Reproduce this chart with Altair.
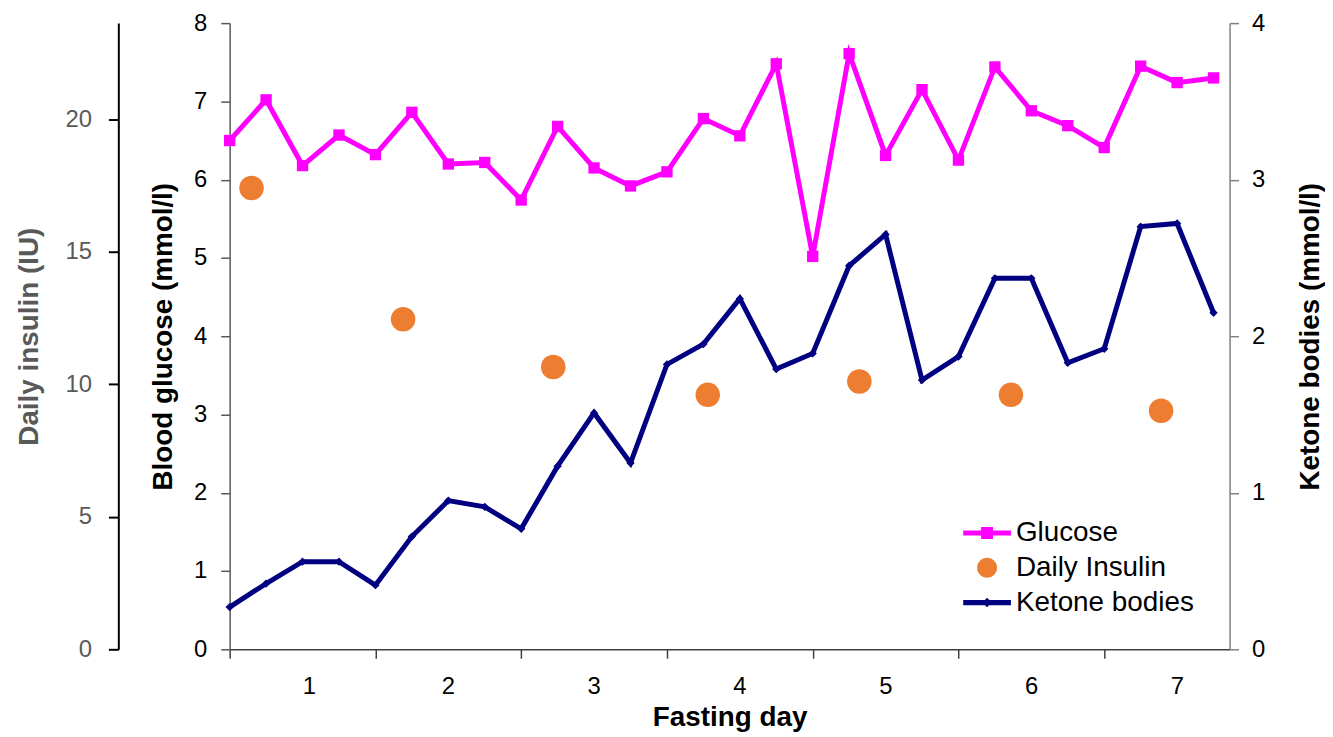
import altair as alt
import pandas as pd

# ---- data ----
measure_day = [0.5, 0.75, 1.0, 1.25, 1.5, 1.75, 2.0, 2.25, 2.5, 2.75, 3.0, 3.25, 3.5, 3.75,
               4.0, 4.25, 4.5, 4.75, 5.0, 5.25, 5.5, 5.75, 6.0, 6.25, 6.5, 6.75, 7.0, 7.25]
glucose = [6.50, 7.02, 6.18, 6.57, 6.32, 6.86, 6.20, 6.22, 5.74, 6.68, 6.15, 5.92, 6.10, 6.78,
           6.56, 7.48, 5.02, 7.61, 6.31, 7.15, 6.25, 7.44, 6.88, 6.69, 6.41, 7.45, 7.24, 7.30]
ketone = [0.27, 0.42, 0.56, 0.56, 0.41, 0.72, 0.95, 0.91, 0.77, 1.17, 1.51, 1.19, 1.82, 1.95,
          2.24, 1.79, 1.89, 2.45, 2.65, 1.72, 1.87, 2.37, 2.37, 1.83, 1.92, 2.70, 2.72, 2.15]
insulin_day = [0.65, 1.69, 2.72, 3.78, 4.82, 5.86, 6.89]
insulin = [17.4, 12.45, 10.65, 9.6, 10.1, 9.6, 9.0]
series_names = ["Glucose", "Daily Insulin", "Ketone bodies"]
series_colors = ["#FF00FF", "#ED7D31", "#000080"]
day_ticks = [0.5, 1.5, 2.5, 3.5, 4.5, 5.5, 6.5]
insulin_ticks = [0, 5, 10, 15, 20]
glucose_ticks = [0, 1, 2, 3, 4, 5, 6, 7, 8]
ketone_ticks = [0, 1, 2, 3, 4]

meas = pd.DataFrame({"day": measure_day, "glucose": glucose, "ketone": ketone})
ins = pd.DataFrame({"day": insulin_day, "insulin": insulin})
leg = pd.DataFrame({"series": series_names})

FONT = "Liberation Sans"
W, H = 1006, 630
xscale = alt.Scale(domain=[0.5, 7.36], nice=False, zero=False)

x_axis = alt.Axis(values=day_ticks, labelExpr="format(datum.value + 0.5, 'd')",
                  labelOffset=73, title="Fasting day", grid=False,
                  domainColor="#404040", tickColor="#404040", tickSize=9,
                  domainWidth=1.5, tickWidth=1.5,
                  labelPadding=16, titlePadding=6, labelColor="black", titleColor="black",
                  labelFontSize=24, titleFontSize=28, labelFont=FONT, titleFont=FONT,
                  titleFontWeight="bold")
X = alt.X("day:Q", scale=xscale, axis=x_axis)

# Insulin (far left axis)
ins_layer = alt.Chart(ins).mark_circle(size=610, opacity=1, color="#ED7D31").encode(
    x=X,
    y=alt.Y("insulin:Q",
            scale=alt.Scale(domain=[0, 23.62], nice=False, zero=True),
            axis=alt.Axis(orient="left", offset=112, values=insulin_ticks,
                          title="Daily insulin (IU)", labelColor="#595959",
                          titleColor="#595959", domainColor="black", tickColor="black",
                          domainWidth=2, tickWidth=2, tickSize=10, labelPadding=17,
                          titlePadding=22, grid=False)),
)

# Glucose (left axis)
g_base = alt.Chart(meas).encode(
    x=X,
    y=alt.Y("glucose:Q",
            scale=alt.Scale(domain=[0, 8], nice=False),
            axis=alt.Axis(orient="left", values=glucose_ticks,
                          title="Blood glucose (mmol/l)", labelColor="black",
                          titleColor="black", domainColor="#595959", tickColor="#595959",
                          domainWidth=1.5, tickWidth=1.5, tickSize=9, labelPadding=14,
                          titlePadding=16, grid=False)),
)
g_group = alt.layer(
    g_base.mark_line(color="#FF00FF", strokeWidth=5),
    g_base.mark_point(shape="square", filled=True, size=130, color="#FF00FF", opacity=1),
)

# Ketone (right axis)
k_base = alt.Chart(meas).encode(
    x=X,
    y=alt.Y("ketone:Q",
            scale=alt.Scale(domain=[0, 4], nice=False),
            axis=alt.Axis(orient="right", values=ketone_ticks,
                          title="Ketone bodies (mmol/l)", titleAngle=270,
                          labelColor="black", titleColor="black",
                          domainColor="#808080", tickColor="#808080", domainWidth=1.5,
                          tickWidth=1.5, tickSize=9, labelPadding=13, titlePadding=60,
                          grid=False)),
)
k_group = alt.layer(
    k_base.mark_line(color="#000080", strokeWidth=5),
    k_base.mark_point(shape="diamond", filled=True, size=70, color="#000080", opacity=1),
)

shape_paths = [
    "M-1.6,-0.17L1.6,-0.17L1.6,0.17L-1.6,0.17Z M-0.4,-0.4L0.4,-0.4L0.4,0.4L-0.4,0.4Z",
    "M-0.67,0A0.67,0.67,0,1,1,0.67,0A0.67,0.67,0,1,1,-0.67,0Z",
    "M-1.6,-0.17L1.6,-0.17L1.6,0.17L-1.6,0.17Z M0,-0.32L0.32,0L0,0.32L-0.32,0Z",
]

legend_layer = alt.Chart(leg).mark_point(filled=True, opacity=0).encode(
    x=alt.value(0),
    y=alt.value(0),
    color=alt.Color("series:N",
                    scale=alt.Scale(domain=series_names, range=series_colors),
                    legend=alt.Legend(title=None, orient="none", legendX=747, legendY=498,
                                      symbolOpacity=1, symbolSize=900, symbolStrokeWidth=0,
                                      labelFontSize=28, labelFont=FONT, labelColor="black",
                                      labelOffset=14, rowPadding=6, padding=0,
                                      labelLimit=400)),
    shape=alt.Shape("series:N",
                    scale=alt.Scale(domain=series_names, range=shape_paths),
                    legend=None),
)

chart = alt.layer(ins_layer, g_group, k_group, legend_layer).resolve_scale(
    y="independent"
).properties(
    width=W, height=H, background="white",
    padding={"left": 7, "top": 1, "right": 0, "bottom": 2},
).configure_view(stroke=None).configure_axis(
    labelFont=FONT, titleFont=FONT, labelFontSize=24, titleFontSize=28,
    titleFontWeight="bold",
)

chart.save("out.html", embed_options={"renderer": "svg", "actions": False})
